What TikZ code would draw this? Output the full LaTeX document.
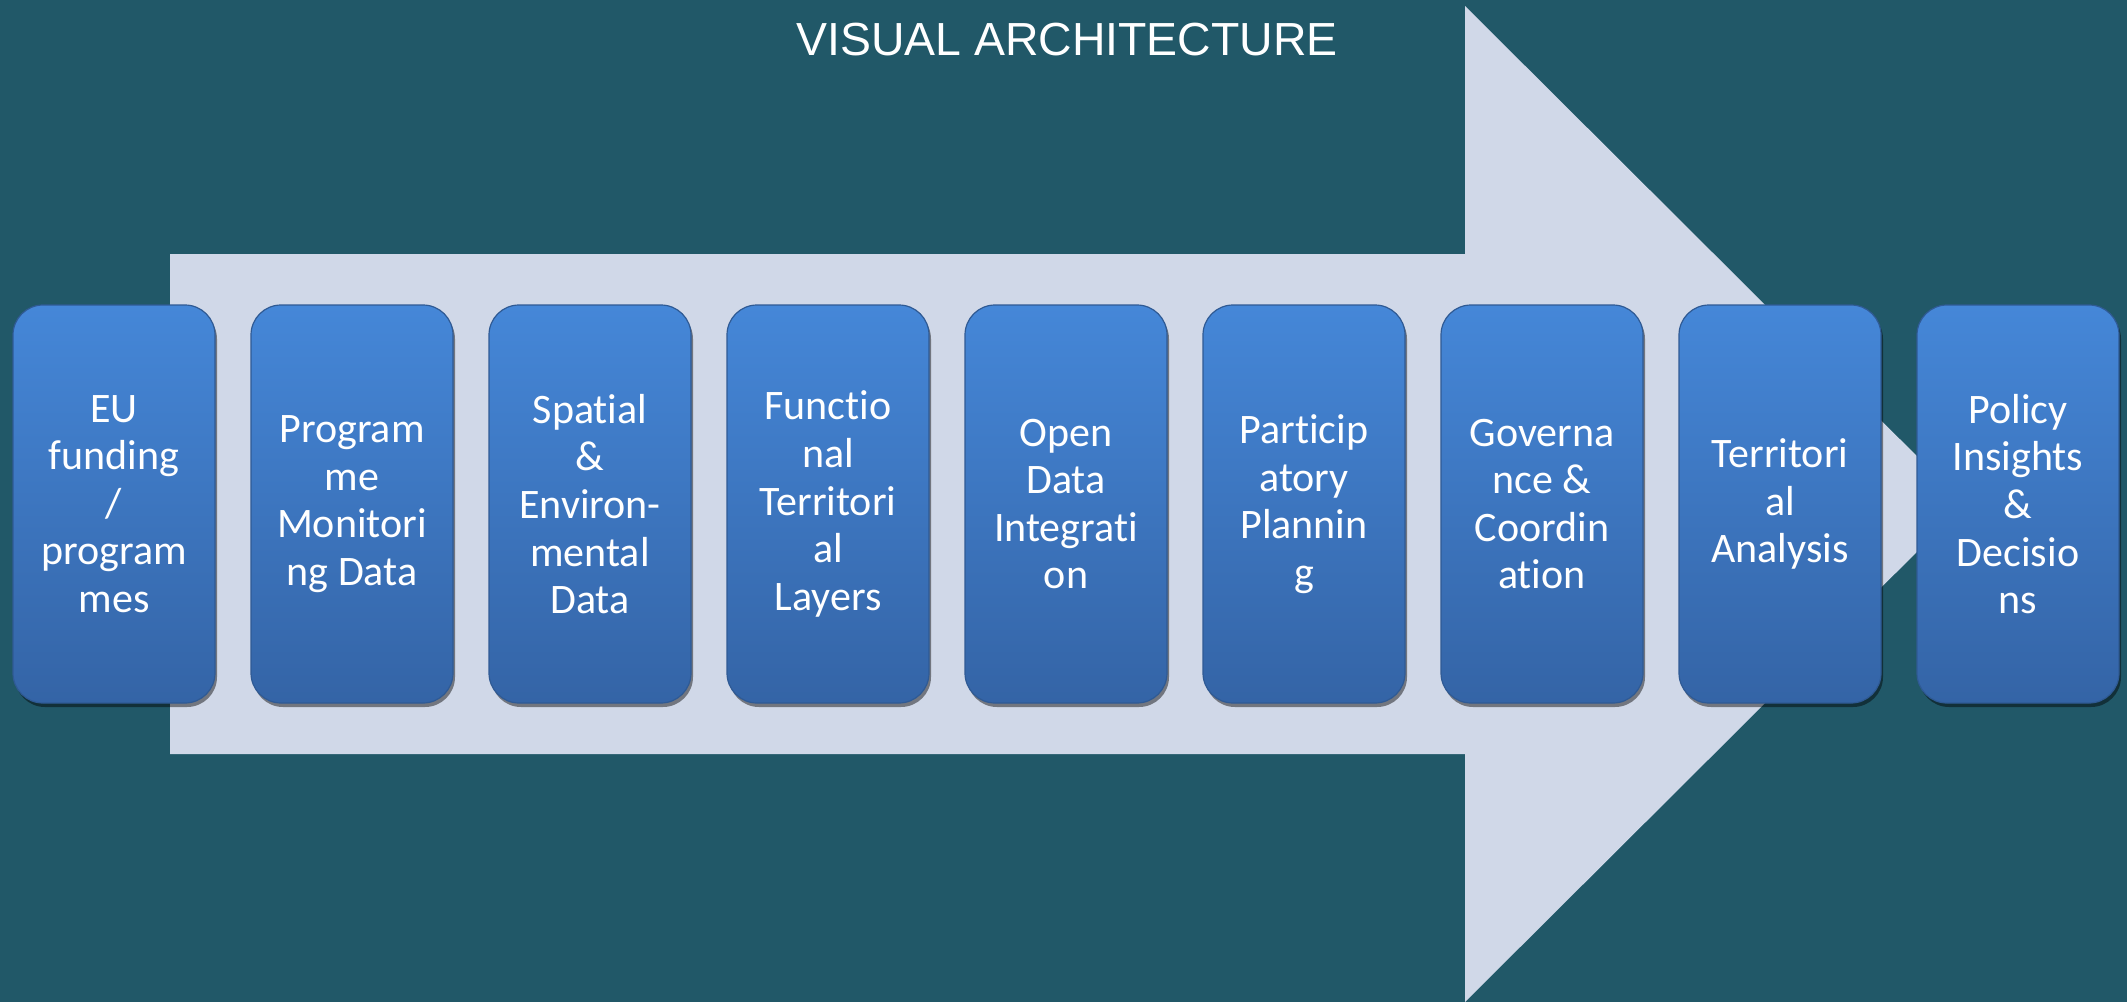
\documentclass[tikz,border=0pt]{standalone}
\usepackage{fontspec}
\setmainfont[Ligatures={NoCommon}]{Carlito}
\newfontfamily\titlefont{Liberation Sans}
\usetikzlibrary{shadows}
\definecolor{bgteal}{HTML}{215868}
\definecolor{arrowfill}{HTML}{D0D8E8}
\definecolor{boxtop}{HTML}{4587D8}
\definecolor{boxbot}{HTML}{3464A6}
\definecolor{boxedge}{HTML}{2F5A94}
\tikzset{
  stagebox/.style={rounded corners=15pt, minimum width=101pt, minimum height=199pt,
    top color=boxtop, bottom color=boxbot, draw=boxedge, line width=0.6pt,
    drop shadow={shadow xshift=1pt, shadow yshift=-2pt, opacity=0.45, fill=black},
    text=white, align=center, inner sep=2pt,
    font=\fontsize{21pt}{23.8pt}\selectfont},
  titletext/.style={text=white, font=\titlefont\fontsize{23.2pt}{27pt}\selectfont, inner sep=0pt}
}
\begin{document}
\begin{tikzpicture}[x=0.5pt,y=-0.5pt]
\useasboundingbox (0,0) rectangle (2127,1002);
\fill[bgteal] (0,0) rectangle (2127,1002);
% big arrow
\fill[arrowfill] (170,254) -- (1465,254) -- (1465,6) -- (1965,504) -- (1465,1002) -- (1465,754) -- (170,754) -- cycle;
% title
\node[titletext, anchor=base] (title) at (1067,55) {VISUAL ARCHITECTURE};
% boxes
\node[stagebox] (b1) at (114,504) {EU\\funding\\/\\program\\mes};
\node[stagebox] (b2) at (352,504) {Program\\me\\Monitori\\ng Data};
\node[stagebox] (b3) at (590,504) {Spatial\\\&\\Environ-\\mental\\Data};
\node[stagebox] (b4) at (828,504) {Functio\\nal\\Territori\\al\\Layers};
\node[stagebox] (b5) at (1066,504) {Open\\Data\\Integrati\\on};
\node[stagebox] (b6) at (1304,504) {Particip\\atory\\Plannin\\g};
\node[stagebox] (b7) at (1542,504) {Governa\\nce \&\\Coordin\\ation};
\node[stagebox] (b8) at (1780,504) {Territori\\al\\Analysis};
\node[stagebox] (b9) at (2018,504) {Policy\\Insights\\\&\\Decisio\\ns};
\end{tikzpicture}
\end{document}
